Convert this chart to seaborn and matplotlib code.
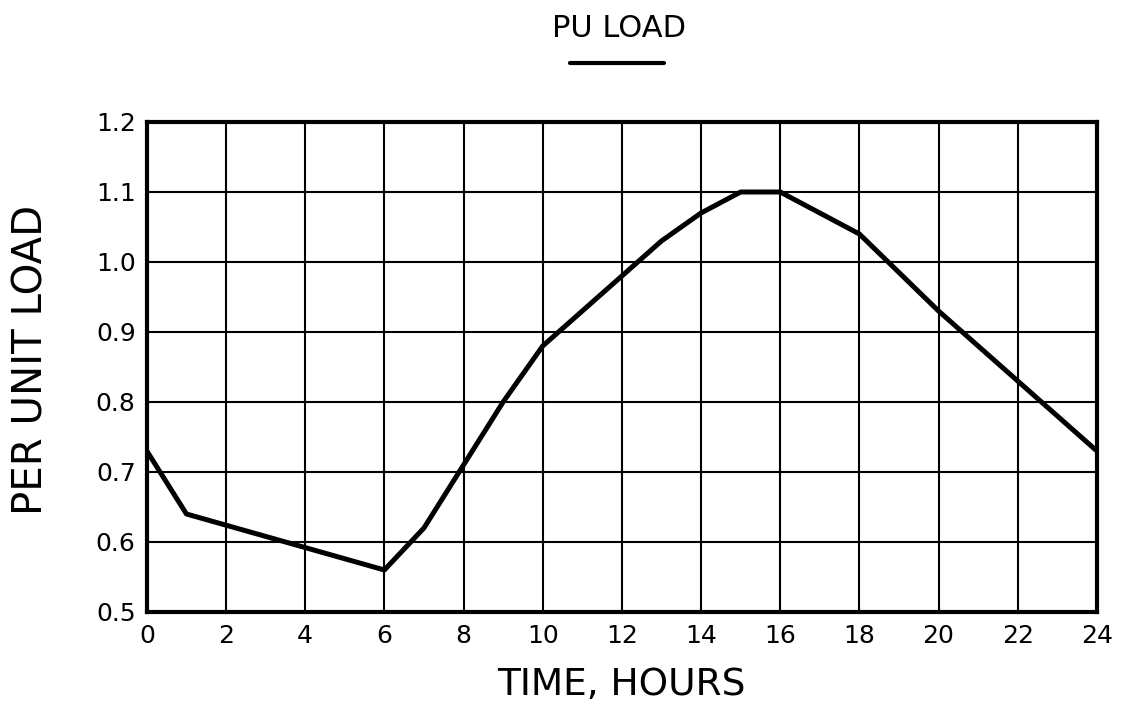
import matplotlib
matplotlib.use('Agg')
import matplotlib.pyplot as plt
import pandas as pd
import seaborn as sns

# hourly per-unit load
hours = [0, 1, 2, 3, 4, 5, 6, 7, 8, 9, 10, 11, 12, 13, 14, 15, 16, 17, 18, 19, 20, 21, 22, 23, 24]
pu_load = [0.73, 0.64, 0.624, 0.608, 0.592, 0.576, 0.56, 0.62, 0.71, 0.80, 0.88, 0.93, 0.98, 1.03,
           1.07, 1.10, 1.10, 1.07, 1.04, 0.985, 0.93, 0.88, 0.83, 0.78, 0.73]
x_ticks = list(range(0, 25, 2))
y_ticks = [0.5, 0.6, 0.7, 0.8, 0.9, 1.0, 1.1, 1.2]
y_tick_labels = ['0.5', '0.6', '0.7', '0.8', '0.9', '1.0', '1.1', '1.2']

df = pd.DataFrame({'Hour': hours, 'Load': pu_load})

sns.set_style('white')
plt.rcParams['font.family'] = ['DejaVu Sans']
plt.rcParams['text.color'] = 'black'
plt.rcParams['axes.labelcolor'] = 'black'
plt.rcParams['xtick.color'] = 'black'
plt.rcParams['ytick.color'] = 'black'

fig = plt.figure(figsize=(11.21, 7.21), dpi=100)
ax = fig.add_axes([0.131, 0.1512, 0.8475, 0.6796])

sns.lineplot(data=df, x='Hour', y='Load', ax=ax, color='black', linewidth=3.6, label=' ')

ax.set_xlim(0, 24)
ax.set_ylim(0.5, 1.2)
ax.set_xticks(x_ticks)
ax.set_yticks(y_ticks)
ax.set_yticklabels(y_tick_labels)
ax.grid(True, color='black', linewidth=1.5)
ax.tick_params(length=0, labelsize=18, pad=8)
ax.tick_params(axis='x', pad=9)
for s in ax.spines.values():
    s.set_visible(True)
    s.set_color('black')
    s.set_linewidth(3)

ax.set_xlabel('TIME, HOURS', fontsize=27, labelpad=13)
ax.set_ylabel('PER UNIT LOAD', fontsize=29)
ax.yaxis.set_label_coords(-0.1, 0.515)

leg = ax.legend(title='PU LOAD', loc='center', bbox_to_anchor=(619 / 1121, 1 - 42 / 721),
                bbox_transform=fig.transFigure, frameon=False, handlelength=6.8,
                handletextpad=0, labelspacing=1.0, fontsize=10, borderpad=0,
                title_fontproperties={'size': 22})
for h in leg.legend_handles:
    h.set_linewidth(3)

fig.savefig('out.png', dpi=100)
